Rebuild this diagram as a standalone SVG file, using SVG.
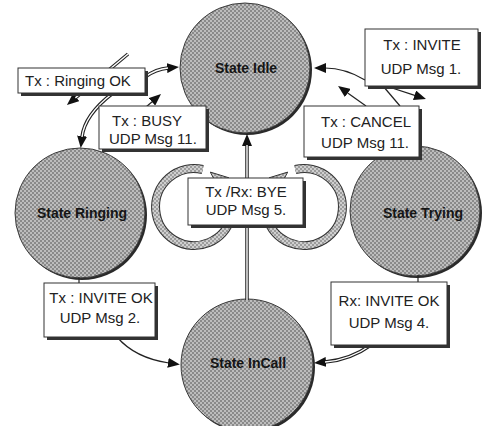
<svg xmlns="http://www.w3.org/2000/svg" width="487" height="426" viewBox="0 0 487 426">
<defs>
<pattern id="chk" width="4" height="4" patternUnits="userSpaceOnUse"><rect width="4" height="4" fill="#bdbdbd"/><rect width="2" height="2" fill="#8a8a8a"/><rect x="2" y="2" width="2" height="2" fill="#8a8a8a"/></pattern>
<pattern id="chk2" width="4" height="4" patternUnits="userSpaceOnUse"><rect width="4" height="4" fill="#cfcfcf"/><rect width="2" height="2" fill="#9c9c9c"/><rect x="2" y="2" width="2" height="2" fill="#9c9c9c"/></pattern>
<marker id="ah" markerWidth="12" markerHeight="10" refX="1" refY="5" orient="auto" markerUnits="userSpaceOnUse" viewBox="0 0 12 10"><path d="M0,0 L12,5 L0,10 z" fill="#111"/></marker>
</defs>
<style>
.shadow{fill:#2a2a2a}
.state{fill:url(#chk);stroke:#3a3a3a;stroke-width:1}
.slabel{font-family:"Liberation Sans",Arial,sans-serif;font-size:14px;font-weight:bold;fill:#151515;text-anchor:middle}
.box{fill:#fff;stroke:#333;stroke-width:1}
.bshadow{fill:#333}
.t{font-family:"Liberation Sans",Arial,sans-serif;font-size:15px;fill:#222}
.m{text-anchor:middle}
.ln{fill:none;stroke:#222;stroke-width:1.2}
.dl{fill:none;stroke:#222;stroke-width:3.5}
.dw{fill:none;stroke:#fff;stroke-width:1.4}
.ringo{fill:none;stroke:#333;stroke-width:9}
.ringi{fill:none;stroke:url(#chk2);stroke-width:7}
</style>
<rect width="487" height="426" fill="#fff"/>

<g id="node-idle"><circle class="shadow" cx="247" cy="70" r="65"/><circle class="state" cx="245" cy="68" r="65"/><text class="slabel" x="246" y="73">State Idle</text></g>
<g id="node-ringing"><circle class="shadow" cx="82" cy="215" r="65"/><circle class="state" cx="80" cy="213" r="65"/><text class="slabel" x="82" y="218">State Ringing</text></g>
<g id="node-trying"><circle class="shadow" cx="417" cy="213" r="65"/><circle class="state" cx="415" cy="211" r="65"/><text class="slabel" x="423" y="218">State Trying</text></g>
<g id="node-incall"><circle class="shadow" cx="249" cy="367" r="66"/><circle class="state" cx="247" cy="365" r="66"/><text class="slabel" x="248" y="368">State InCall</text></g>

<g id="connectors">
<path class="dl" d="M145,77 Q156,69 168,68" marker-end="url(#ah)"/><path class="dw" d="M145,77 Q156,69 168,68"/>
<path class="dl" d="M113,93 C96,106 84,120 82,137" marker-end="url(#ah)"/><path class="dw" d="M113,93 C96,106 84,120 82,137"/>
<path class="dl" d="M128,54 L75.4,97.9" marker-end="url(#ah)"/><path class="dw" d="M128,54 L75.4,97.9"/>
<path class="ln" d="M146,107 L152.7,101.2" marker-end="url(#ah)"/>
<path class="ln" d="M365,80 Q345,68 325,68" marker-end="url(#ah)"/>
<path class="ln" d="M386,86 L415.5,95.6" marker-end="url(#ah)"/>
<path class="ln" d="M366,106 L347,92.4" marker-end="url(#ah)"/>
<path class="ln" d="M383,86 L400,106"/>
<path class="dl" d="M247,300 L247,145" marker-end="url(#ah)"/><path class="dw" d="M247,300 L247,145"/>
<path class="ln" d="M79,277 L79,283"/>
<path class="ln" d="M418,275 L418,282"/>
<path class="ln" d="M117,337 Q135,358 169,363" marker-end="url(#ah)"/>
<path class="dl" d="M371,345 Q350,360 325,362" marker-end="url(#ah)"/><path class="dw" d="M371,345 Q350,360 325,362"/>
</g>

<g id="loop-left">
<path class="ringo" d="M202.7,169.5 A38.5,38.5 0 1 0 223.5,182.2"/>
<path class="ringi" d="M202.7,169.5 A38.5,38.5 0 1 0 223.5,182.2"/>
<polygon points="210.3,172.1 228.9,177.8 218.1,186.8" fill="url(#chk2)" stroke="#333" stroke-width="1"/>
</g>
<g id="loop-right">
<path class="ringo" d="M295.3,169.5 A38.5,38.5 0 1 1 274.5,182.2"/>
<path class="ringi" d="M295.3,169.5 A38.5,38.5 0 1 1 274.5,182.2"/>
<polygon points="287.7,172.1 269.1,177.8 279.9,186.8" fill="url(#chk2)" stroke="#333" stroke-width="1"/>
</g>

<g id="label-ringing-ok"><rect class="bshadow" x="21" y="71" width="127" height="25"/><rect class="box" x="18" y="68" width="127" height="25"/><text class="t" x="25" y="86">Tx : Ringing OK</text></g>
<g id="label-busy"><rect class="bshadow" x="102" y="109" width="107" height="43"/><rect class="box" x="99" y="106" width="107" height="43"/><text class="t" x="112" y="126">Tx : BUSY</text><text class="t" x="109" y="144">UDP Msg 11.</text></g>
<g id="label-invite"><rect class="bshadow" x="368" y="32" width="113" height="57"/><rect class="box" x="365" y="29" width="113" height="57"/><text class="t m" x="422" y="50">Tx : INVITE</text><text class="t m" x="421" y="74">UDP Msg 1.</text></g>
<g id="label-cancel"><rect class="bshadow" x="307" y="109" width="115" height="51"/><rect class="box" x="304" y="106" width="115" height="51"/><text class="t m" x="366" y="127">Tx : CANCEL</text><text class="t m" x="365" y="148">UDP Msg 11.</text></g>
<g id="label-bye"><rect class="bshadow" x="191" y="181" width="115" height="47"/><rect class="box" x="188" y="178" width="115" height="47"/><text class="t m" x="246" y="197">Tx /Rx: BYE</text><text class="t m" x="246" y="215">UDP Msg 5.</text></g>
<g id="label-invite-ok"><rect class="bshadow" x="47" y="286" width="111" height="54"/><rect class="box" x="44" y="283" width="111" height="54"/><text class="t m" x="101" y="303">Tx : INVITE OK</text><text class="t m" x="100" y="323">UDP Msg 2.</text></g>
<g id="label-rx-invite-ok"><rect class="bshadow" x="334" y="285" width="116" height="63"/><rect class="box" x="331" y="282" width="116" height="63"/><text class="t m" x="389" y="306">Rx: INVITE OK</text><text class="t m" x="389" y="328">UDP Msg 4.</text></g>
</svg>
